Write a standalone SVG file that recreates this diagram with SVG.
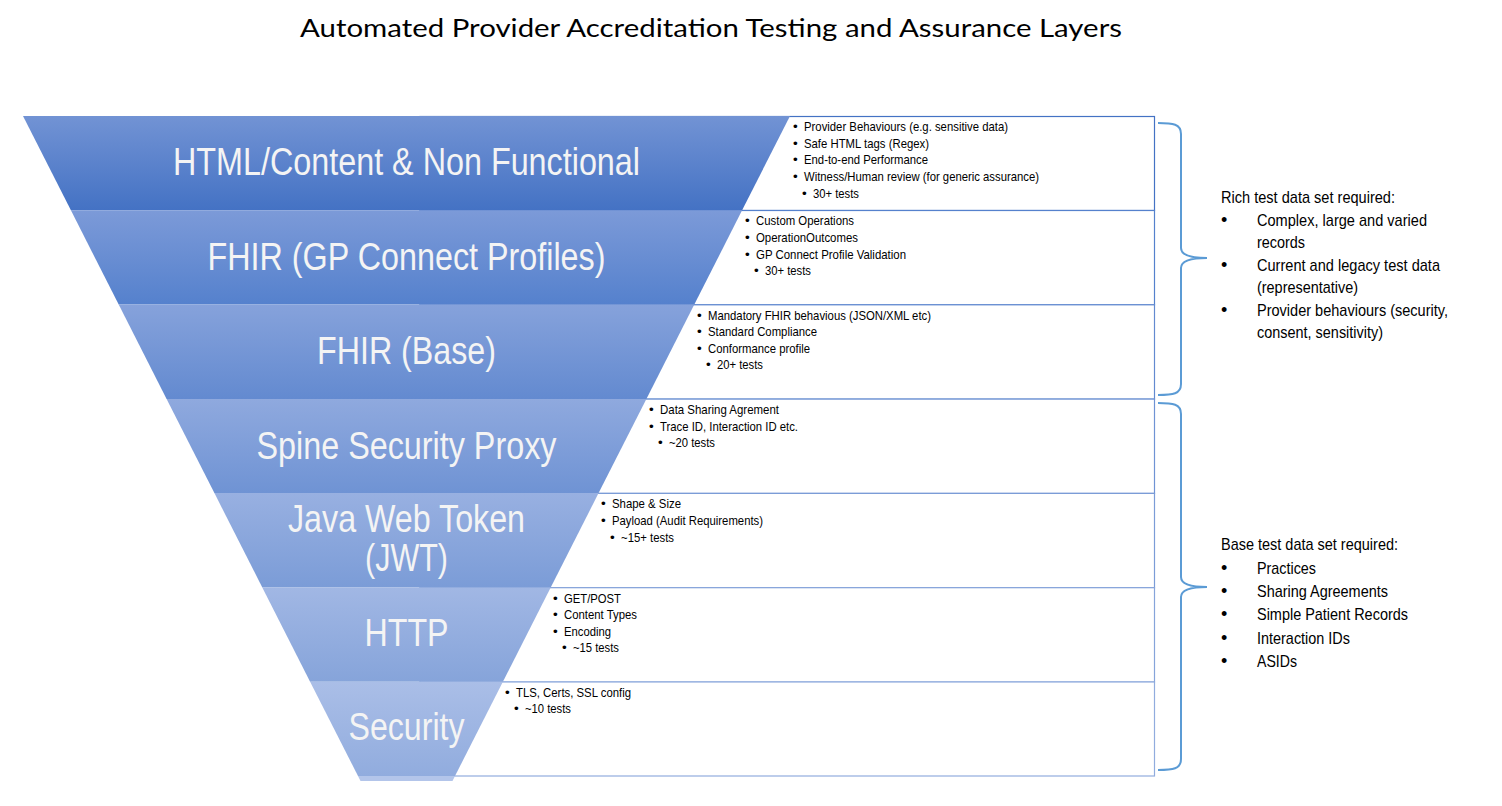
<svg xmlns="http://www.w3.org/2000/svg" width="1502" height="806" viewBox="0 0 1502 806">
<defs>
<linearGradient id="g1" x1="0" y1="0" x2="0" y2="1"><stop offset="0" stop-color="#7293D4"/><stop offset="1" stop-color="#4472C4"/></linearGradient>
<linearGradient id="g2" x1="0" y1="0" x2="0" y2="1"><stop offset="0" stop-color="#7C9AD8"/><stop offset="1" stop-color="#5581CD"/></linearGradient>
<linearGradient id="g3" x1="0" y1="0" x2="0" y2="1"><stop offset="0" stop-color="#86A2DB"/><stop offset="1" stop-color="#638AD0"/></linearGradient>
<linearGradient id="g4" x1="0" y1="0" x2="0" y2="1"><stop offset="0" stop-color="#8FA9DE"/><stop offset="1" stop-color="#6F93D4"/></linearGradient>
<linearGradient id="g5" x1="0" y1="0" x2="0" y2="1"><stop offset="0" stop-color="#98B0E1"/><stop offset="1" stop-color="#7B9CD7"/></linearGradient>
<linearGradient id="g6" x1="0" y1="0" x2="0" y2="1"><stop offset="0" stop-color="#A1B7E4"/><stop offset="1" stop-color="#86A4DA"/></linearGradient>
<linearGradient id="g7" x1="0" y1="0" x2="0" y2="1"><stop offset="0" stop-color="#AABEE7"/><stop offset="1" stop-color="#91ACDE"/></linearGradient>
</defs>
<style>
.title{font-family:Lato,"Open Sans","Liberation Sans",sans-serif;font-size:25px;fill:#000}
.big{font-family:"Liberation Sans Narrow","Liberation Sans",Arial,sans-serif;font-size:38.5px;fill:#F4F4F4;text-anchor:middle}
.sm{font-family:"Liberation Sans Narrow","Liberation Sans",Arial,sans-serif;font-size:13.5px;fill:#000}
.rt{font-family:"Liberation Sans Narrow","Liberation Sans",Arial,sans-serif;font-size:17px;fill:#000}
.dot{font-family:"Liberation Sans",Arial,sans-serif;font-size:18px;fill:#000}
.box{fill:#fff;stroke-width:1.2}
.brace{fill:none;stroke:#5B9BD5;stroke-width:2}
</style>
<rect width="1502" height="806" fill="#fff"/>
<text class="title" x="300" y="37" textLength="822" lengthAdjust="spacingAndGlyphs">Automated Provider Accreditation Testing and Assurance Layers</text>

<g id="boxes">
<rect class="box" x="420" y="116.5" width="734.5" height="94" stroke="#4472C4"/>
<rect class="box" x="420" y="210.5" width="734.5" height="94.3" stroke="#5581CD"/>
<rect class="box" x="420" y="304.8" width="734.5" height="94.3" stroke="#638AD0"/>
<rect class="box" x="420" y="399.1" width="734.5" height="94.3" stroke="#6F93D4"/>
<rect class="box" x="420" y="493.4" width="734.5" height="94.3" stroke="#7B9CD7"/>
<rect class="box" x="420" y="587.7" width="734.5" height="94.3" stroke="#86A4DA"/>
<rect class="box" x="420" y="682" width="734.5" height="94" stroke="#91ACDE"/>
</g>

<g id="layer1">
<polygon points="23,116 790,116 742.1,210.3 70.9,210.3" fill="url(#g1)"/>
<text class="big" x="406.5" y="175" textLength="467" lengthAdjust="spacingAndGlyphs">HTML/Content &amp; Non Functional</text>
<text class="sm" x="793" y="131">•</text><text class="sm" x="804" y="131" textLength="204" lengthAdjust="spacingAndGlyphs">Provider Behaviours (e.g. sensitive data)</text>
<text class="sm" x="793" y="147.7">•</text><text class="sm" x="804" y="147.7" textLength="125" lengthAdjust="spacingAndGlyphs">Safe HTML tags (Regex)</text>
<text class="sm" x="793" y="164.4">•</text><text class="sm" x="804" y="164.4" textLength="124" lengthAdjust="spacingAndGlyphs">End-to-end Performance</text>
<text class="sm" x="793" y="181">•</text><text class="sm" x="804" y="181" textLength="235" lengthAdjust="spacingAndGlyphs">Witness/Human review (for generic assurance)</text>
<text class="sm" x="802" y="197.6">•</text><text class="sm" x="813" y="197.6" textLength="46" lengthAdjust="spacingAndGlyphs">30+ tests</text>
</g>

<g id="layer2">
<polygon points="70.9,210.3 742.1,210.3 694.3,304.6 118.7,304.6" fill="url(#g2)"/>
<text class="big" x="406.5" y="270" textLength="398" lengthAdjust="spacingAndGlyphs">FHIR (GP Connect Profiles)</text>
<text class="sm" x="745" y="225.3">•</text><text class="sm" x="756" y="225.3" textLength="98" lengthAdjust="spacingAndGlyphs">Custom Operations</text>
<text class="sm" x="745" y="242">•</text><text class="sm" x="756" y="242" textLength="102" lengthAdjust="spacingAndGlyphs">OperationOutcomes</text>
<text class="sm" x="745" y="258.6">•</text><text class="sm" x="756" y="258.6" textLength="150" lengthAdjust="spacingAndGlyphs">GP Connect Profile Validation</text>
<text class="sm" x="754" y="275">•</text><text class="sm" x="765" y="275" textLength="46" lengthAdjust="spacingAndGlyphs">30+ tests</text>
</g>

<g id="layer3">
<polygon points="118.7,304.6 694.3,304.6 646.4,398.9 166.6,398.9" fill="url(#g3)"/>
<text class="big" x="406.5" y="364" textLength="179" lengthAdjust="spacingAndGlyphs">FHIR (Base)</text>
<text class="sm" x="697" y="319.6">•</text><text class="sm" x="708" y="319.6" textLength="223" lengthAdjust="spacingAndGlyphs">Mandatory FHIR behavious (JSON/XML etc)</text>
<text class="sm" x="697" y="336.3">•</text><text class="sm" x="708" y="336.3" textLength="109" lengthAdjust="spacingAndGlyphs">Standard Compliance</text>
<text class="sm" x="697" y="353">•</text><text class="sm" x="708" y="353" textLength="102" lengthAdjust="spacingAndGlyphs">Conformance profile</text>
<text class="sm" x="706" y="369.4">•</text><text class="sm" x="717" y="369.4" textLength="46" lengthAdjust="spacingAndGlyphs">20+ tests</text>
</g>

<g id="layer4">
<polygon points="166.6,398.9 646.4,398.9 598.6,493.1 214.4,493.1" fill="url(#g4)"/>
<text class="big" x="406.5" y="458.5" textLength="300" lengthAdjust="spacingAndGlyphs">Spine Security Proxy</text>
<text class="sm" x="649" y="413.9">•</text><text class="sm" x="660" y="413.9" textLength="119" lengthAdjust="spacingAndGlyphs">Data Sharing Agrement</text>
<text class="sm" x="649" y="430.6">•</text><text class="sm" x="660" y="430.6" textLength="138" lengthAdjust="spacingAndGlyphs">Trace ID, Interaction ID etc.</text>
<text class="sm" x="658" y="447.2">•</text><text class="sm" x="669" y="447.2" textLength="46" lengthAdjust="spacingAndGlyphs">~20 tests</text>
</g>

<g id="layer5">
<polygon points="214.4,493.1 598.6,493.1 550.7,587.4 262.3,587.4" fill="url(#g5)"/>
<text class="big" x="406.5" y="531.5" textLength="237" lengthAdjust="spacingAndGlyphs">Java Web Token</text>
<text class="big" x="406.5" y="570.5" textLength="83" lengthAdjust="spacingAndGlyphs">(JWT)</text>
<text class="sm" x="601" y="508.2">•</text><text class="sm" x="612" y="508.2" textLength="69" lengthAdjust="spacingAndGlyphs">Shape &amp; Size</text>
<text class="sm" x="601" y="524.9">•</text><text class="sm" x="612" y="524.9" textLength="151" lengthAdjust="spacingAndGlyphs">Payload (Audit Requirements)</text>
<text class="sm" x="610" y="541.5">•</text><text class="sm" x="621" y="541.5" textLength="53" lengthAdjust="spacingAndGlyphs">~15+ tests</text>
</g>

<g id="layer6">
<polygon points="262.3,587.4 550.7,587.4 502.9,681.7 310.1,681.7" fill="url(#g6)"/>
<text class="big" x="406.5" y="645.5" textLength="84" lengthAdjust="spacingAndGlyphs">HTTP</text>
<text class="sm" x="553" y="602.5">•</text><text class="sm" x="564" y="602.5" textLength="57" lengthAdjust="spacingAndGlyphs">GET/POST</text>
<text class="sm" x="553" y="619.2">•</text><text class="sm" x="564" y="619.2" textLength="73" lengthAdjust="spacingAndGlyphs">Content Types</text>
<text class="sm" x="553" y="635.9">•</text><text class="sm" x="564" y="635.9" textLength="47" lengthAdjust="spacingAndGlyphs">Encoding</text>
<text class="sm" x="562" y="652.4">•</text><text class="sm" x="573" y="652.4" textLength="46" lengthAdjust="spacingAndGlyphs">~15 tests</text>
</g>

<g id="layer7">
<polygon points="310.1,681.7 502.9,681.7 455,776 358,776" fill="url(#g7)"/>
<polygon points="358,776 455,776 452.5,781 360.5,781" fill="#B3C5EA"/>
<text class="big" x="406.5" y="739.5" textLength="116" lengthAdjust="spacingAndGlyphs">Security</text>
<text class="sm" x="505" y="696.8">•</text><text class="sm" x="516" y="696.8" textLength="115" lengthAdjust="spacingAndGlyphs">TLS, Certs, SSL config</text>
<text class="sm" x="514" y="713.4">•</text><text class="sm" x="525" y="713.4" textLength="46" lengthAdjust="spacingAndGlyphs">~10 tests</text>
</g>

<g id="connectors">
<path class="brace" d="M1158,123 C1173,123 1181,124 1181,134 L1181,248 C1181,255 1189,258 1207,258 C1189,258 1181,261 1181,268 L1181,384 C1181,394 1173,395 1158,395"/>
<path class="brace" d="M1158,403 C1173,403 1181,404 1181,414 L1181,577 C1181,584 1189,587 1207,587 C1189,587 1181,590 1181,597 L1181,759 C1181,769 1173,770 1158,770"/>
</g>

<g id="rich-data">
<text class="rt" x="1221" y="203" textLength="174" lengthAdjust="spacingAndGlyphs">Rich test data set required:</text>
<text class="dot" x="1221" y="226">•</text><text class="rt" x="1257" y="226" textLength="170" lengthAdjust="spacingAndGlyphs">Complex, large and varied</text>
<text class="rt" x="1257" y="247.5" textLength="48" lengthAdjust="spacingAndGlyphs">records</text>
<text class="dot" x="1221" y="271">•</text><text class="rt" x="1257" y="271" textLength="183" lengthAdjust="spacingAndGlyphs">Current and legacy test data</text>
<text class="rt" x="1257" y="292.5" textLength="101" lengthAdjust="spacingAndGlyphs">(representative)</text>
<text class="dot" x="1221" y="316">•</text><text class="rt" x="1257" y="316" textLength="191" lengthAdjust="spacingAndGlyphs">Provider behaviours (security,</text>
<text class="rt" x="1257" y="338" textLength="126" lengthAdjust="spacingAndGlyphs">consent, sensitivity)</text>
</g>

<g id="base-data">
<text class="rt" x="1221" y="550" textLength="177" lengthAdjust="spacingAndGlyphs">Base test data set required:</text>
<text class="dot" x="1221" y="574">•</text><text class="rt" x="1257" y="574" textLength="59" lengthAdjust="spacingAndGlyphs">Practices</text>
<text class="dot" x="1221" y="597">•</text><text class="rt" x="1257" y="597" textLength="131" lengthAdjust="spacingAndGlyphs">Sharing Agreements</text>
<text class="dot" x="1221" y="620">•</text><text class="rt" x="1257" y="620" textLength="151" lengthAdjust="spacingAndGlyphs">Simple Patient Records</text>
<text class="dot" x="1221" y="644">•</text><text class="rt" x="1257" y="644" textLength="93" lengthAdjust="spacingAndGlyphs">Interaction IDs</text>
<text class="dot" x="1221" y="667">•</text><text class="rt" x="1257" y="667" textLength="40" lengthAdjust="spacingAndGlyphs">ASIDs</text>
</g>
</svg>
